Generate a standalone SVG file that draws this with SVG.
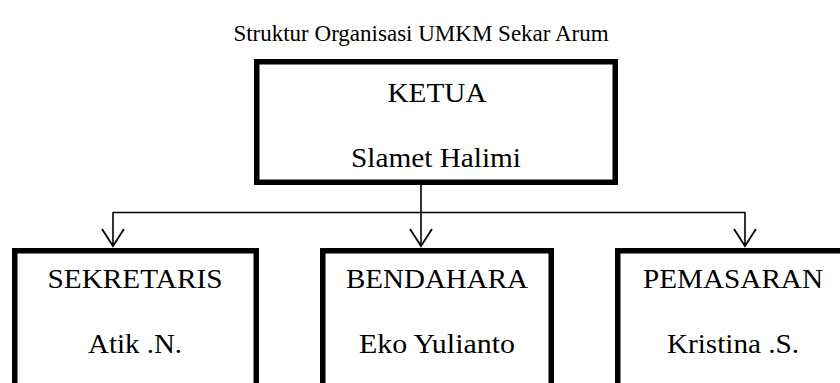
<svg xmlns="http://www.w3.org/2000/svg" width="840" height="383" viewBox="0 0 840 383">
<style>
.box{fill:#fff;stroke:#000;stroke-width:5.5}
.t{font-family:"Liberation Serif","Times New Roman",serif;font-size:27px;fill:#000;text-anchor:middle}
.title{font-family:"Liberation Serif","Times New Roman",serif;font-size:23px;fill:#000;text-anchor:middle}
.ln{fill:none;stroke:#000;stroke-width:1.6}
</style>
<defs>
<marker id="arr" markerWidth="24" markerHeight="20" refX="12" refY="18" orient="0" markerUnits="userSpaceOnUse" viewBox="0 0 24 20">
<path d="M1,1 L12,18 L23,1" fill="none" stroke="#000" stroke-width="1.8"/>
</marker>
</defs>
<rect width="840" height="383" fill="#fff"/>
<text class="title" x="421" y="41">Struktur Organisasi UMKM Sekar Arum</text>
<g id="connectors">
<line class="ln" x1="113" y1="212.5" x2="745" y2="212.5"/>
<line class="ln" x1="421" y1="185" x2="421" y2="246" marker-end="url(#arr)"/>
<line class="ln" x1="113" y1="212" x2="113" y2="246" marker-end="url(#arr)"/>
<line class="ln" x1="745" y1="212" x2="745" y2="246" marker-end="url(#arr)"/>
</g>
<g id="ketua">
<rect class="box" x="256.75" y="61.75" width="358.5" height="120.5"/>
<text class="t" x="437" y="102" textLength="99" lengthAdjust="spacingAndGlyphs">KETUA</text>
<text class="t" x="436" y="167" textLength="170" lengthAdjust="spacingAndGlyphs">Slamet Halimi</text>
</g>
<g id="sekretaris">
<rect class="box" x="14.75" y="250.75" width="241.5" height="140"/>
<text class="t" x="135" y="288" textLength="175" lengthAdjust="spacingAndGlyphs">SEKRETARIS</text>
<text class="t" x="135" y="353" textLength="94" lengthAdjust="spacingAndGlyphs">Atik .N.</text>
</g>
<g id="bendahara">
<rect class="box" x="322.75" y="250.75" width="228.5" height="140"/>
<text class="t" x="437" y="288" textLength="182" lengthAdjust="spacingAndGlyphs">BENDAHARA</text>
<text class="t" x="437" y="353" textLength="156" lengthAdjust="spacingAndGlyphs">Eko Yulianto</text>
</g>
<g id="pemasaran">
<rect class="box" x="617.75" y="250.75" width="240" height="140"/>
<text class="t" x="733" y="288" textLength="180" lengthAdjust="spacingAndGlyphs">PEMASARAN</text>
<text class="t" x="733" y="353" textLength="132" lengthAdjust="spacingAndGlyphs">Kristina .S.</text>
</g>
</svg>
